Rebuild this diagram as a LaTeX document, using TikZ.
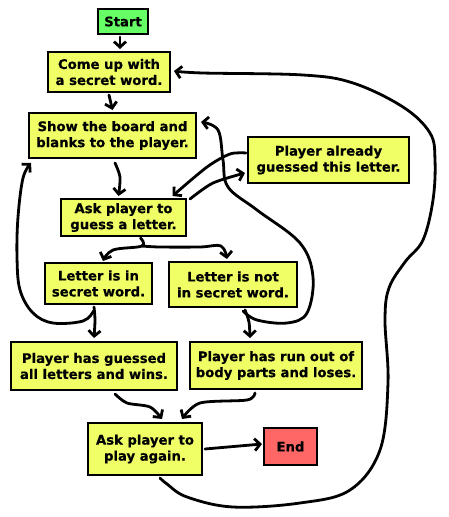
\documentclass[tikz,border=0pt]{standalone}
\usepackage{fontspec}
\setmainfont{DejaVu Sans}
\newfontfamily\boxfont{DejaVu Sans}[FakeBold=0.6]
\usetikzlibrary{arrows.meta}
\definecolor{boxyellow}{RGB}{240,255,102}
\definecolor{boxgreen}{RGB}{102,255,102}
\definecolor{boxred}{RGB}{255,102,102}
\tikzset{
  box/.style={draw=black, line width=2pt, fill=boxyellow, align=center,
    inner sep=0pt, font=\boxfont\bfseries\fontsize{13.2}{16}\selectfont},
  arr/.style={line width=2.8pt, line cap=round, line join=round,
    -{Straight Barb[length=5.5pt,width=12pt]}},
}
\begin{document}
\begin{tikzpicture}[x=1pt,y=-1pt]
\useasboundingbox (0,0) rectangle (448,517);
\node[box, fill=boxgreen, minimum width=50pt, minimum height=25pt] (start) at (123,21.5) {Start};
\node[box, minimum width=122pt, minimum height=40pt] (come) at (109,72) {Come up with\\a secret word.};
\node[box, minimum width=167pt, minimum height=45pt] (show) at (112.5,135.5) {Show the board and\\blanks to the player.};
\node[box, minimum width=161pt, minimum height=46pt] (already) at (328.5,160) {Player already\\guessed this letter.};
\node[box, minimum width=125pt, minimum height=37pt] (ask) at (123.5,217.5) {Ask player to\\guess a letter.};
\node[box, minimum width=107pt, minimum height=41pt] (lin) at (98.5,283.5) {Letter is in\\secret word.};
\node[box, minimum width=128pt, minimum height=45pt] (lnot) at (233,284.5) {Letter is not\\in secret word.};
\node[box, minimum width=166pt, minimum height=48pt] (won) at (94,366) {Player has guessed\\all letters and wins.};
\node[box, minimum width=172pt, minimum height=47pt] (lost) at (276,365.5) {Player has run out of\\body parts and loses.};
\node[box, minimum width=114pt, minimum height=52pt] (again) at (145,449) {Ask player to\\play again.};
\node[box, fill=boxred, minimum width=53pt, minimum height=37pt] (end) at (290.5,446.5) {End};

% straight-ish arrows
\draw[arr] ([xshift=-3pt,yshift=-2pt]start.south) -- ([xshift=11pt,yshift=2pt]come.north);
\draw[arr] ([yshift=-2pt]come.south) -- ([yshift=2pt]show.north);
\draw[arr] plot[smooth] coordinates {([xshift=2.5pt,yshift=-4pt]show.south) (120,177) ([xshift=-5pt,yshift=2pt]ask.north)};
% ask <-> already
\draw[arr] plot[smooth] coordinates {([xshift=3pt,yshift=-1pt]ask.north east) (213,183) ([xshift=-2pt,yshift=-13pt]already.west)};
\draw[arr] plot[smooth] coordinates {([xshift=-1pt,yshift=7pt]already.west) (230,154) (207,167) ([xshift=49pt,yshift=2pt]ask.north)};
% ask split
\draw[arr] plot[smooth, tension=0.6] coordinates {([xshift=17pt,yshift=-1pt]ask.south) (142,246) (113,250) ([xshift=4.5pt,yshift=1pt]lin.north)};
\draw[arr] plot[smooth, tension=0.6] coordinates {(142,246) (160,247) (200,247) (221,246) ([xshift=-6pt,yshift=2pt]lnot.north)};
% letter in -> won, loop back
\draw[arr] plot[smooth] coordinates {([xshift=-4.5pt,yshift=-2pt]lin.south) (95,320) ([yshift=3pt]won.north)};
\draw[arr] plot[smooth, tension=0.6] coordinates {([xshift=-5pt,yshift=-6pt]lin.south) (83,321) (53,323) (33,313) (20,290) (17,257) (18,217) (23,178) ([xshift=3pt,yshift=-4pt]show.south west)};
% letter not -> lost, loop back
\draw[arr] plot[smooth] coordinates {([xshift=12pt,yshift=-2pt]lnot.south) (249,322) ([xshift=-26pt,yshift=3pt]lost.north)};
\draw[arr] plot[smooth, tension=0.6] coordinates {([xshift=10pt,yshift=-3pt]lnot.south) (257,320) (287,323) (307,313) (313,277) (300,243) (257,210) (228,187) (223,160) (218,130) ([xshift=4pt,yshift=-10pt]show.north east)};
% won/lost -> again
\draw[arr] plot[smooth] coordinates {([xshift=21pt,yshift=-3pt]won.south) (127,403) (150,407) ([xshift=17pt,yshift=3pt]again.north)};
\draw[arr] plot[smooth] coordinates {([xshift=-21pt,yshift=-3pt]lost.south) (247,400) (200,403) ([xshift=37pt,yshift=3pt]again.north)};
% again -> end
\draw[arr] ([xshift=2pt]again.east) -- ([xshift=-1pt,yshift=2.5pt]end.west);
% again -> come (big loop)
\draw[arr] plot[smooth, tension=0.6] coordinates {([xshift=15pt,yshift=-2pt]again.south) (167,484) (187,497) (233,507) (300,503) (350,490) (380,450) (388,383) (385,320) (389,288) (405,262) (423,240) (433,200) (435,160) (430,133) (403,107) (353,83) (303,75) (203,73) ([xshift=3pt,yshift=1pt]come.east)};
\end{tikzpicture}
\end{document}
